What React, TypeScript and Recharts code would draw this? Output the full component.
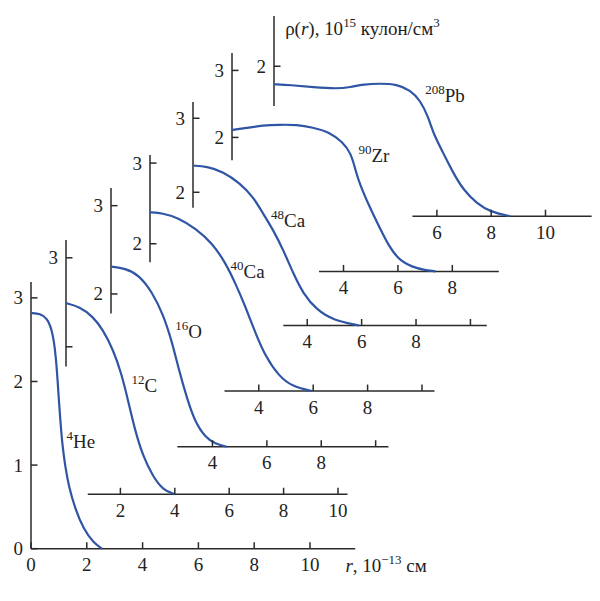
import React from "react";
import { LineChart, Line, XAxis, YAxis, ReferenceLine, ReferenceDot } from "recharts";

const BLUE = "#2f55a4";
const AXIS = "#2a2a2a";
const INK = "#222";
const FONT = "Liberation Serif, DejaVu Serif, Times New Roman, serif";
const TICK = 6.5;
const YW = 30;
const XH = 36;

// charge density curves: r in 10^-13 cm, rho in 10^15 C/cm^3,
// each one read against its own (shifted) pair of axes
const he4 = [
  { r: 0, rho: 2.82 }, { r: 0.33, rho: 2.81 }, { r: 0.57, rho: 2.76 }, { r: 0.75, rho: 2.62 },
  { r: 0.85, rho: 2.42 }, { r: 0.93, rho: 2.14 }, { r: 0.99, rho: 1.82 }, { r: 1.05, rho: 1.54 },
  { r: 1.13, rho: 1.22 }, { r: 1.23, rho: 0.98 }, { r: 1.35, rho: 0.75 }, { r: 1.59, rho: 0.47 },
  { r: 1.89, rho: 0.23 }, { r: 2.24, rho: 0.07 }, { r: 2.54, rho: 0 },
];
const c12 = [
  { r: 0, rho: 2.49 }, { r: 0.5, rho: 2.45 }, { r: 0.99, rho: 2.34 }, { r: 1.36, rho: 2.19 },
  { r: 1.73, rho: 1.97 }, { r: 2.04, rho: 1.7 }, { r: 2.28, rho: 1.4 }, { r: 2.53, rho: 1.07 },
  { r: 2.83, rho: 0.77 }, { r: 3.2, rho: 0.54 }, { r: 3.57, rho: 0.39 }, { r: 4.0, rho: 0.343 },
];
const o16 = [
  { r: 0.27, rho: 2.31 }, { r: 0.79, rho: 2.29 }, { r: 1.28, rho: 2.22 }, { r: 1.77, rho: 2.03 },
  { r: 2.2, rho: 1.76 }, { r: 2.51, rho: 1.46 }, { r: 2.75, rho: 1.16 }, { r: 3.06, rho: 0.82 },
  { r: 3.36, rho: 0.55 }, { r: 3.73, rho: 0.38 }, { r: 4.1, rho: 0.3 }, { r: 4.53, rho: 0.27 },
];
const ca40 = [
  { r: 0, rho: 2.39 }, { r: 0.45, rho: 2.38 }, { r: 1.06, rho: 2.32 }, { r: 1.67, rho: 2.19 },
  { r: 2.29, rho: 2.01 }, { r: 2.78, rho: 1.76 }, { r: 3.14, rho: 1.51 }, { r: 3.51, rho: 1.22 },
  { r: 3.88, rho: 0.89 }, { r: 4.25, rho: 0.6 }, { r: 4.74, rho: 0.36 }, { r: 5.23, rho: 0.23 },
  { r: 5.96, rho: 0.175 },
];
const ca48 = [
  { r: -0.2, rho: 2.36 }, { r: 0.3, rho: 2.35 }, { r: 0.91, rho: 2.28 }, { r: 1.53, rho: 2.12 },
  { r: 2.01, rho: 1.94 }, { r: 2.38, rho: 1.71 }, { r: 2.75, rho: 1.49 }, { r: 3.12, rho: 1.22 },
  { r: 3.49, rho: 0.9 }, { r: 3.85, rho: 0.63 }, { r: 4.35, rho: 0.41 }, { r: 4.96, rho: 0.27 },
  { r: 5.91, rho: 0.2 },
];
const zr90 = [
  { r: -0.1, rho: 2.11 }, { r: 0.42, rho: 2.14 }, { r: 1.03, rho: 2.18 }, { r: 1.65, rho: 2.19 },
  { r: 2.26, rho: 2.19 }, { r: 2.87, rho: 2.15 }, { r: 3.48, rho: 2.08 }, { r: 3.97, rho: 1.93 },
  { r: 4.28, rho: 1.76 }, { r: 4.44, rho: 1.51 }, { r: 4.59, rho: 1.31 }, { r: 4.96, rho: 0.96 },
  { r: 5.32, rho: 0.66 }, { r: 5.69, rho: 0.36 }, { r: 6.06, rho: 0.16 }, { r: 6.67, rho: 0.04 },
  { r: 7.38, rho: 0 },
];
const pb208 = [
  { r: 0, rho: 1.76 }, { r: 0.6, rho: 1.75 }, { r: 1.45, rho: 1.72 }, { r: 2.32, rho: 1.7 },
  { r: 2.81, rho: 1.72 }, { r: 3.3, rho: 1.76 }, { r: 3.91, rho: 1.77 }, { r: 4.53, rho: 1.76 },
  { r: 5.02, rho: 1.68 }, { r: 5.38, rho: 1.55 }, { r: 5.69, rho: 1.32 }, { r: 5.87, rho: 1.1 },
  { r: 6.24, rho: 0.84 }, { r: 6.61, rho: 0.57 }, { r: 6.98, rho: 0.35 }, { r: 7.47, rho: 0.17 },
  { r: 7.96, rho: 0.06 }, { r: 8.7, rho: 0 },
];

// tick values (and which of them carry a number)
const X_TICKS_MAIN = [0, 2, 4, 6, 8, 10];
const Y_TICKS_MAIN = [0, 1, 2, 3];
const X_TICKS_C = [2, 4, 6, 8, 10];
const X_TICKS_MID = [4, 6, 8, 10];
const X_LABELS_MID = [4, 6, 8];
const X_TICKS_ZR = [4, 6, 8];
const X_TICKS_PB = [6, 8, 10];
const Y_TICKS = [2, 3];
const Y_TICKS_PB = [2];

type Pt = { r: number; rho: number };
type Panel = {
  key: string;
  data: Pt[];
  mass: string;
  sym: string;
  at: Pt; // where the nucleus name sits
  // pixel frame: r = 0 at ox, rho = 0 at oy, sx / sy pixels per unit
  ox: number;
  oy: number;
  sx: number;
  sy: number;
  axisR: number; // r of the vertical axis
  baseRho: number; // rho of the horizontal axis
  xLine: [number, number];
  yLine: [number, number];
  xTicks: number[];
  xLabels: number[];
  yTicks: number[];
  yLabels: number[];
  padRight?: number;
  main?: boolean;
  title?: boolean;
};

const panels: Panel[] = [
  {
    key: "pb", data: pb208, mass: "208", sym: "Pb", at: { r: 5.57, rho: 1.52 },
    ox: 273.8, oy: 216, sx: 27.15, sy: 75, axisR: 0, baseRho: 0,
    xLine: [5.1, 11.7], yLine: [1.47, 2.67],
    xTicks: X_TICKS_PB, xLabels: X_TICKS_PB, yTicks: Y_TICKS_PB, yLabels: Y_TICKS_PB, title: true,
  },
  {
    key: "zr", data: zr90, mass: "90", sym: "Zr", at: { r: 4.55, rho: 1.64 },
    ox: 235.2, oy: 271, sx: 27.2, sy: 67, axisR: -0.1, baseRho: 0,
    xLine: [3.1, 9.71], yLine: [1.66, 3.26],
    xTicks: X_TICKS_ZR, xLabels: X_TICKS_ZR, yTicks: Y_TICKS, yLabels: Y_TICKS,
  },
  {
    key: "ca48", data: ca48, mass: "48", sym: "Ca", at: { r: 2.67, rho: 1.53 },
    ox: 198.5, oy: 340.3, sx: 27.2, sy: 74, axisR: -0.2, baseRho: 0.2,
    xLine: [3.12, 10.6], yLine: [1.79, 3.22],
    xTicks: X_TICKS_MID, xLabels: X_LABELS_MID, yTicks: Y_TICKS, yLabels: Y_TICKS,
  },
  {
    key: "ca40", data: ca40, mass: "40", sym: "Ca", at: { r: 2.96, rho: 1.58 },
    ox: 149.5, oy: 405.4, sx: 27.2, sy: 80.7, axisR: 0, baseRho: 0.175,
    xLine: [2.74, 10.46], yLine: [1.77, 3.1],
    xTicks: X_TICKS_MID, xLabels: X_LABELS_MID, yTicks: Y_TICKS, yLabels: Y_TICKS,
  },
  {
    key: "o16", data: o16, mass: "16", sym: "O", at: { r: 2.63, rho: 1.5 },
    ox: 103.5, oy: 470.6, sx: 27.2, sy: 88.3, axisR: 0.27, baseRho: 0.27,
    xLine: [2.71, 10.47], yLine: [1.78, 3.2],
    xTicks: X_TICKS_MID, xLabels: X_LABELS_MID, yTicks: Y_TICKS, yLabels: Y_TICKS,
  },
  {
    key: "c12", data: c12, mass: "12", sym: "C", at: { r: 2.41, rho: 1.49 },
    ox: 66.3, oy: 525, sx: 27.2, sy: 89, axisR: 0, baseRho: 0.343,
    xLine: [0.8, 10.35], yLine: [1.78, 3.2],
    xTicks: X_TICKS_C, xLabels: X_TICKS_C, yTicks: Y_TICKS, yLabels: [3],
  },
  {
    key: "he4", data: he4, mass: "4", sym: "He", at: { r: 1.27, rho: 1.21 },
    ox: 30.7, oy: 549, sx: 27.9, sy: 83.6, axisR: 0, baseRho: 0,
    xLine: [0, 11.62], yLine: [0, 3.19],
    xTicks: X_TICKS_MAIN, xLabels: X_TICKS_MAIN, yTicks: Y_TICKS_MAIN, yLabels: Y_TICKS_MAIN,
    padRight: 80, main: true,
  },
];

const textStyle = { fontFamily: FONT, fill: INK };

const XTick = (props: any) => {
  const { x, y, payload, shown } = props;
  const v = payload?.value;
  return (
    <g>
      <line x1={x} x2={x} y1={y} y2={y - TICK} stroke={AXIS} strokeWidth={1.5} />
      {shown.includes(v) && (
        <text x={x} y={y + 22.5} textAnchor="middle" fontSize={19} style={textStyle}>
          {v}
        </text>
      )}
    </g>
  );
};

const YTick = (props: any) => {
  const { x, y, payload, shown } = props;
  const v = payload?.value;
  return (
    <g>
      <line x1={x} x2={x + TICK} y1={y} y2={y} stroke={AXIS} strokeWidth={1.5} />
      {shown.includes(v) && (
        <text x={x - 8} y={y + 6.5} textAnchor="end" fontSize={19} style={textStyle}>
          {v}
        </text>
      )}
    </g>
  );
};

const NucleusName = (props: any) => {
  const vb = props.viewBox || { x: 0, y: 0 };
  return (
    <text x={vb.x} y={vb.y} fontSize={19} style={textStyle}>
      <tspan fontSize={13} dy={-8}>{props.mass}</tspan>
      <tspan dy={8}>{props.sym}</tspan>
    </text>
  );
};

const RhoTitle = (props: any) => {
  const vb = props.viewBox || { x: 0, y: 0 };
  return (
    <text x={vb.x} y={vb.y} fontSize={19} style={textStyle}>
      <tspan>ρ(</tspan>
      <tspan fontStyle="italic">r</tspan>
      <tspan>), 10</tspan>
      <tspan fontSize={13} dy={-8}>15</tspan>
      <tspan dy={8}> кулон/см</tspan>
      <tspan fontSize={13} dy={-8}>3</tspan>
    </text>
  );
};

const RTitle = (props: any) => {
  const vb = props.viewBox || { x: 0, y: 0 };
  return (
    <text x={vb.x} y={vb.y} fontSize={19} style={textStyle}>
      <tspan fontStyle="italic">r</tspan>
      <tspan>, 10</tspan>
      <tspan fontSize={13} dy={-8}>−13</tspan>
      <tspan dy={8}> см</tspan>
    </text>
  );
};

const DensityPanel = ({ p }: { p: Panel }) => {
  const plotLeft = p.ox + p.sx * p.axisR;
  const plotTop = p.oy - p.sy * p.yLine[1];
  const plotW = p.sx * (p.xLine[1] - p.axisR);
  const plotH = p.sy * (p.yLine[1] - p.baseRho);
  const padR = p.padRight ?? 0;
  return (
    <div style={{ position: "absolute", left: plotLeft - YW, top: plotTop }}>
      <LineChart
        width={YW + plotW + padR}
        height={plotH + XH}
        data={p.data}
        margin={{ top: 0, right: padR, bottom: 0, left: 0 }}
      >
        <XAxis
          type="number"
          dataKey="r"
          domain={[p.axisR, p.xLine[1]]}
          ticks={p.xTicks}
          interval={0}
          height={XH}
          axisLine={false}
          tickLine={false}
          tickSize={0}
          tickMargin={0}
          tick={<XTick shown={p.xLabels} />}
        />
        <YAxis
          type="number"
          domain={[p.baseRho, p.yLine[1]]}
          ticks={p.yTicks}
          interval={0}
          width={YW}
          axisLine={false}
          tickLine={false}
          tickSize={0}
          tickMargin={0}
          tick={<YTick shown={p.yLabels} />}
        />
        <ReferenceLine
          segment={[{ x: p.xLine[0], y: p.baseRho }, { x: p.xLine[1], y: p.baseRho }]}
          stroke={AXIS}
          strokeWidth={1.5}
          ifOverflow="visible"
        />
        <ReferenceLine
          segment={[{ x: p.axisR, y: p.yLine[0] }, { x: p.axisR, y: p.yLine[1] }]}
          stroke={AXIS}
          strokeWidth={1.5}
          ifOverflow="visible"
        />
        <Line
          type="basis"
          dataKey="rho"
          stroke={BLUE}
          strokeWidth={2.2}
          dot={false}
          activeDot={false}
          isAnimationActive={false}
        />
        <ReferenceDot
          x={p.at.r}
          y={p.at.rho}
          r={0}
          fill="none"
          stroke="none"
          ifOverflow="visible"
          label={<NucleusName mass={p.mass} sym={p.sym} />}
        />
        {p.title && (
          <ReferenceDot
            x={0.41}
            y={2.42}
            r={0}
            fill="none"
            stroke="none"
            ifOverflow="visible"
            label={<RhoTitle />}
          />
        )}
        {p.main && (
          <ReferenceDot
            x={11.27}
            y={-0.275}
            r={0}
            fill="none"
            stroke="none"
            ifOverflow="visible"
            label={<RTitle />}
          />
        )}
      </LineChart>
    </div>
  );
};

export default function App() {
  return (
    <div
      style={{
        position: "absolute",
        left: 0,
        top: 0,
        width: 600,
        height: 601,
        background: "#fff",
        overflow: "hidden",
      }}
    >
      <style>{"svg.recharts-surface{overflow:visible}"}</style>
      {panels.map((p) => (
        <DensityPanel key={p.key} p={p} />
      ))}
    </div>
  );
}
